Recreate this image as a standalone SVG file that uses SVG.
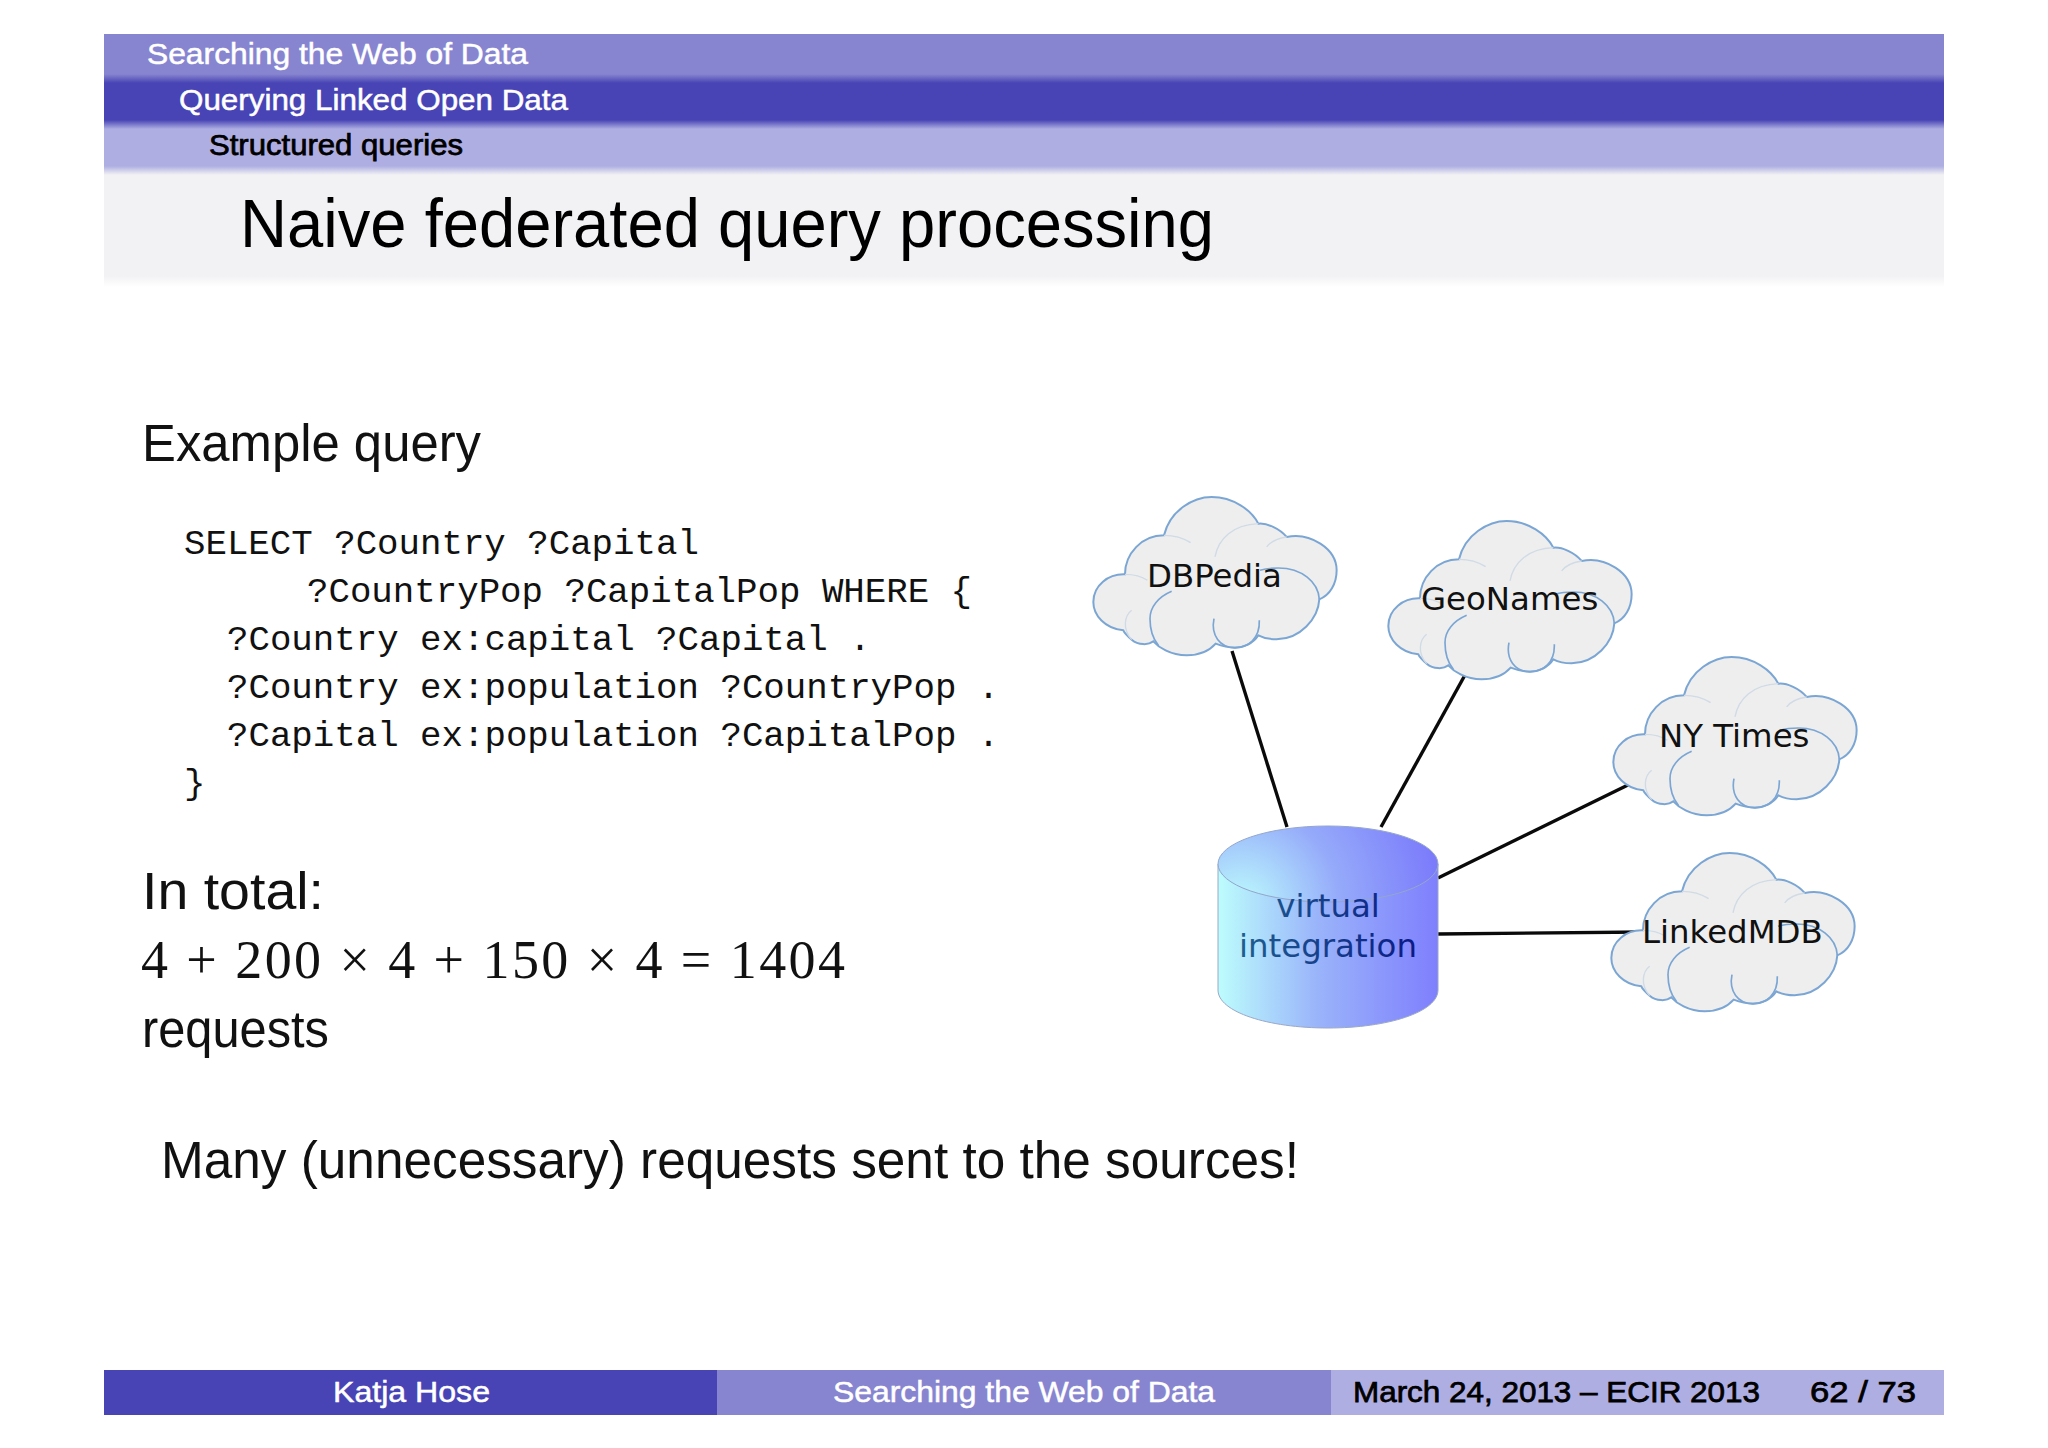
<svg xmlns="http://www.w3.org/2000/svg" width="2048" height="1448" viewBox="0 0 2048 1448">
<style>
text{font-family:"Liberation Sans",Arial,sans-serif}
.hdr{font-size:30px;fill:#fff;stroke:#fff;stroke-width:.5}
.dark{fill:#000;font-size:30px;stroke:#000;stroke-width:.75}
.body{font-size:51px;fill:#111}
.mono{font-family:"Liberation Mono",monospace;font-size:35.75px;fill:#111}
.math{font-family:"Liberation Serif",serif;font-size:54px;fill:#111}
.lbl{font-family:"DejaVu Sans",sans-serif;font-size:32.4px;fill:#111}
.cyltxt{font-family:"DejaVu Sans",sans-serif;font-size:32.4px;fill:url(#cylt2)}
.cf{fill:#eeeeee;stroke:#7ba6d4;stroke-width:6}
.ci{fill:none;stroke:#7ba6d4;stroke-width:5}
.cg{fill:none;stroke:#d0dbe6;stroke-width:4}
.link{stroke:#0a0a0a;stroke-width:3.4;fill:none}
</style>
<defs>
<linearGradient id="b12" x1="0" y1="0" x2="0" y2="1"><stop offset="0" stop-color="#8885d0"/><stop offset="1" stop-color="#4844b5"/></linearGradient>
<linearGradient id="b23" x1="0" y1="0" x2="0" y2="1"><stop offset="0" stop-color="#4844b5"/><stop offset="1" stop-color="#aeaee2"/></linearGradient>
<linearGradient id="b3t" x1="0" y1="0" x2="0" y2="1"><stop offset="0" stop-color="#aeaee2"/><stop offset="1" stop-color="#f2f2f4"/></linearGradient>
<linearGradient id="tw" x1="0" y1="0" x2="0" y2="1"><stop offset="0" stop-color="#f2f2f4"/><stop offset="1" stop-color="#ffffff"/></linearGradient>
<linearGradient id="cyl" gradientUnits="userSpaceOnUse" x1="1218" y1="0" x2="1438" y2="0"><stop offset="0" stop-color="#bdfdfd"/><stop offset="0.45" stop-color="#9ab4fa"/><stop offset="1" stop-color="#7f7ffd"/></linearGradient>
<radialGradient id="cylt" gradientUnits="userSpaceOnUse" cx="1240" cy="905" r="200"><stop offset="0" stop-color="#bdfdfd"/><stop offset="0.5" stop-color="#95aafa"/><stop offset="1" stop-color="#7b7bfb"/></radialGradient>
<linearGradient id="cylt2" gradientUnits="userSpaceOnUse" x1="1240" y1="0" x2="1416" y2="0"><stop offset="0" stop-color="#1f5f8f"/><stop offset="1" stop-color="#0a1a86"/></linearGradient>
<g id="cloud" transform="scale(0.3333)">
<path class="cf" d="M282,160 C300,85 370,45 425,45 C490,45 545,85 565,125 C590,122 630,140 650,165 C720,150 800,200 800,265 C800,305 780,340 748,352 C745,410 690,472 620,472 C600,472 580,468 565,460 C550,485 520,497 495,497 C470,497 450,490 437,485 C415,510 385,520 350,520 C300,520 265,495 250,478 C235,490 205,490 185,473 C170,460 162,450 160,445 C105,440 70,400 70,360 C70,310 115,275 165,277 C165,215 215,160 282,160 Z"/>
<path class="cg" d="M165,277 C190,277 215,283 232,295"/>
<path class="cg" d="M282,160 C310,160 340,168 362,182"/>
<path class="cg" d="M435,225 C445,170 490,128 565,125"/>
<path class="cg" d="M650,165 C620,170 600,180 590,195"/>
<path class="ci" d="M748,352 C745,300 695,258 625,258 C600,258 580,262 570,265"/>
<path class="ci" d="M305,328 C265,345 240,375 240,410 C240,440 245,465 265,490"/>
<path class="cg" d="M185,385 C165,400 155,440 185,473"/>
<path class="ci" d="M432,410 C422,460 450,497 495,497 C535,497 570,470 568,415"/>
</g>
</defs>
<rect width="2048" height="1448" fill="#ffffff"/>
<g id="header">
<rect x="104" y="34" width="1840" height="44" fill="#8885d0"/>
<rect x="104" y="74" width="1840" height="9" fill="url(#b12)"/>
<rect x="104" y="83" width="1840" height="37" fill="#4844b5"/>
<rect x="104" y="120" width="1840" height="9" fill="url(#b23)"/>
<rect x="104" y="129" width="1840" height="37" fill="#aeaee2"/>
<rect x="104" y="166" width="1840" height="9" fill="url(#b3t)"/>
<rect x="104" y="175" width="1840" height="101" fill="#f2f2f4"/>
<rect x="104" y="276" width="1840" height="11" fill="url(#tw)"/>
<text class="hdr" x="147" y="64" textLength="381" lengthAdjust="spacingAndGlyphs">Searching the Web of Data</text>
<text class="hdr" x="179" y="110" textLength="389" lengthAdjust="spacingAndGlyphs">Querying Linked Open Data</text>
<text class="dark" x="209" y="155" textLength="254" lengthAdjust="spacingAndGlyphs">Structured queries</text>
<text x="240" y="247" font-size="69" fill="#000" textLength="974" lengthAdjust="spacingAndGlyphs">Naive federated query processing</text>
</g>
<g id="query">
<text class="body" x="142" y="461" textLength="339" lengthAdjust="spacingAndGlyphs">Example query</text>
<text class="mono" x="184" y="554">SELECT ?Country ?Capital</text>
<text class="mono" x="307" y="602">?CountryPop ?CapitalPop WHERE {</text>
<text class="mono" x="227" y="650">?Country ex:capital ?Capital .</text>
<text class="mono" x="227" y="698">?Country ex:population ?CountryPop .</text>
<text class="mono" x="227" y="746">?Capital ex:population ?CapitalPop .</text>
<text class="mono" x="184" y="794">}</text>
<text class="body" x="142" y="909" textLength="182" lengthAdjust="spacingAndGlyphs">In total:</text>
<text class="math" x="141" y="978" textLength="704" lengthAdjust="spacing">4 + 200 × 4 + 150 × 4 = 1404</text>
<text class="body" x="142" y="1047" textLength="187" lengthAdjust="spacingAndGlyphs">requests</text>
<text class="body" x="161" y="1178" textLength="1138" lengthAdjust="spacingAndGlyphs">Many (unnecessary) requests sent to the sources!</text>
</g>
<g id="connectors">
<line class="link" x1="1232" y1="651" x2="1287" y2="827"/>
<line class="link" x1="1465" y1="675" x2="1381" y2="827"/>
<line class="link" x1="1630" y1="784" x2="1438" y2="878"/>
<line class="link" x1="1438" y1="934" x2="1645" y2="932"/>
</g>
<g id="node-dbpedia"><use href="#cloud" transform="translate(1070,482)"/><text class="lbl" x="1147" y="587">DBPedia</text></g>
<g id="node-geonames"><use href="#cloud" transform="translate(1365,506)"/><text class="lbl" x="1421" y="610">GeoNames</text></g>
<g id="node-nytimes"><use href="#cloud" transform="translate(1590,642)"/><text class="lbl" x="1659" y="747">NY Times</text></g>
<g id="node-linkedmdb"><use href="#cloud" transform="translate(1588,838)"/><text class="lbl" x="1642" y="943">LinkedMDB</text></g>
<g id="node-virtual">
<path d="M1218,864 V990 C1218,1012 1268,1028 1328,1028 C1388,1028 1438,1012 1438,990 V864 Z" fill="url(#cyl)" stroke="#9aa8c8" stroke-width="1"/>
<ellipse cx="1328" cy="864" rx="110" ry="38" fill="url(#cylt)" stroke="#93a6cc" stroke-width="1"/>
<text class="cyltxt" x="1328" y="917" text-anchor="middle">virtual</text>
<text class="cyltxt" x="1328" y="957" text-anchor="middle">integration</text>
</g>
<g id="footer">
<rect x="104" y="1370" width="613" height="45" fill="#4844b5"/>
<rect x="717" y="1370" width="614" height="45" fill="#8885d0"/>
<rect x="1331" y="1370" width="613" height="45" fill="#aeaee2"/>
<text class="hdr" x="333" y="1402" textLength="157" lengthAdjust="spacingAndGlyphs">Katja Hose</text>
<text class="hdr" x="833" y="1402" textLength="382" lengthAdjust="spacingAndGlyphs">Searching the Web of Data</text>
<text class="dark" x="1353" y="1402" textLength="407" lengthAdjust="spacingAndGlyphs">March 24, 2013 – ECIR 2013</text>
<text class="dark" x="1810" y="1402" textLength="106" lengthAdjust="spacingAndGlyphs">62 / 73</text>
</g>
</svg>
